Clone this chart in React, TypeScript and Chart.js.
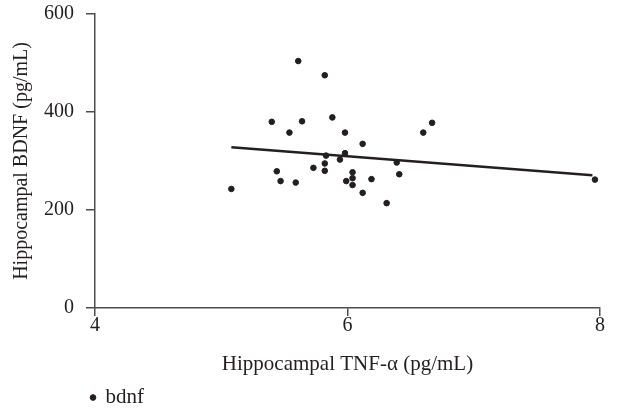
import React, { useEffect, useRef } from "react";
import { Chart, registerables } from "chart.js";

Chart.register(...registerables);

// Hippocampal TNF-α (pg/mL)
const tnfValues = [
  5.08, 5.61, 5.82, 5.40, 5.64, 5.88, 5.54, 5.98, 6.12, 5.98,
  5.83, 5.94, 6.39, 5.82, 5.73, 5.44, 5.82, 6.04, 6.41, 6.04,
  5.99, 6.19, 5.47, 5.59, 6.04, 6.12, 6.31, 6.60, 6.67, 7.96,
];
// Hippocampal BDNF (pg/mL)
const bdnfValues = [
  243, 504, 475, 380, 381, 389, 358, 358, 335, 316,
  311, 303, 297, 295, 286, 279, 280, 277, 273, 265,
  259, 263, 259, 256, 251, 235, 214, 358, 378, 262,
];
// fitted regression line end points
const trendX = [5.08, 7.94];
const trendY = [328, 271];

const xTicks = [4, 6, 8];
const yTicks = [0, 200, 400, 600];

const FONT = "'Liberation Serif', 'Times New Roman', serif";
const TEXT = "#231f20";
const AXIS = "#4d4d4d";

const legendShift = {
  id: "legendShift",
  afterLayout(chart: any) {
    const lg = chart.legend;
    if (lg) {
      const w = lg.right - lg.left;
      lg.left = 81;
      lg.right = 81 + w;
    }
  },
};

export default function App() {
  const ref = useRef<HTMLCanvasElement | null>(null);

  useEffect(() => {
    if (!ref.current) return;
    const chart = new Chart(ref.current, {
      type: "scatter",
      data: {
        datasets: [
          {
            label: "bdnf",
            data: tnfValues.map((x, i) => ({ x, y: bdnfValues[i] })),
            backgroundColor: TEXT,
            borderColor: TEXT,
            pointRadius: 2.8,
            pointHoverRadius: 2.8,
            pointStyle: "circle",
          },
          {
            type: "line",
            label: "fit",
            data: trendX.map((x, i) => ({ x, y: trendY[i] })),
            borderColor: TEXT,
            borderWidth: 2.6,
            pointRadius: 0,
            showLine: true,
            fill: false,
          } as any,
        ],
      },
      plugins: [legendShift],
      options: {
        animation: false,
        responsive: false,
        layout: { padding: { left: 0, right: 17, top: 14, bottom: -5 } },
        plugins: {
          tooltip: { enabled: false },
          legend: {
            position: "bottom",
            align: "start",
            labels: {
              usePointStyle: true,
              boxWidth: 4,
              boxHeight: 4,
              padding: 10,
              color: TEXT,
              font: { family: FONT, size: 21 },
              filter: (item: any) => item.text === "bdnf",
            },
          },
        },
        scales: {
          x: {
            type: "linear",
            min: 4,
            max: 8,
            afterBuildTicks: (s: any) => {
              s.ticks = xTicks.map((v) => ({ value: v }));
            },
            afterFit: (s: any) => {
              s.height = 69;
            },
            grid: { drawOnChartArea: false, tickLength: 8, color: AXIS, lineWidth: 1.5 },
            border: { color: AXIS, width: 1.5 },
            ticks: { color: TEXT, font: { family: FONT, size: 20 }, padding: -2, maxRotation: 0 },
            title: {
              display: true,
              text: "Hippocampal TNF-\u03b1 (pg/mL)",
              color: TEXT,
              font: { family: FONT, size: 21 },
              padding: { top: 0, bottom: 0 },
            },
          },
          y: {
            type: "linear",
            min: 0,
            max: 600,
            afterBuildTicks: (s: any) => {
              s.ticks = yTicks.map((v) => ({ value: v }));
            },
            afterFit: (s: any) => {
              s.width = 95;
              s.paddingTop = 0;
              s.paddingBottom = 0;
            },
            grid: { drawOnChartArea: false, tickLength: 9, color: AXIS, lineWidth: 1.5 },
            border: { color: AXIS, width: 1.5 },
            ticks: { color: TEXT, font: { family: FONT, size: 20 }, padding: 12 },
            title: {
              display: true,
              text: "Hippocampal BDNF (pg/mL)",
              color: TEXT,
              font: { family: FONT, size: 20 },
              padding: { top: 10, bottom: 0 },
            },
          },
        },
      },
    });
    return () => chart.destroy();
  }, []);

  return (
    <div style={{ position: "fixed", left: 0, top: 0, width: 617, height: 413, background: "#fff", overflow: "hidden" }}>
      <canvas ref={ref} width={617} height={413} style={{ display: "block" }} />
    </div>
  );
}
